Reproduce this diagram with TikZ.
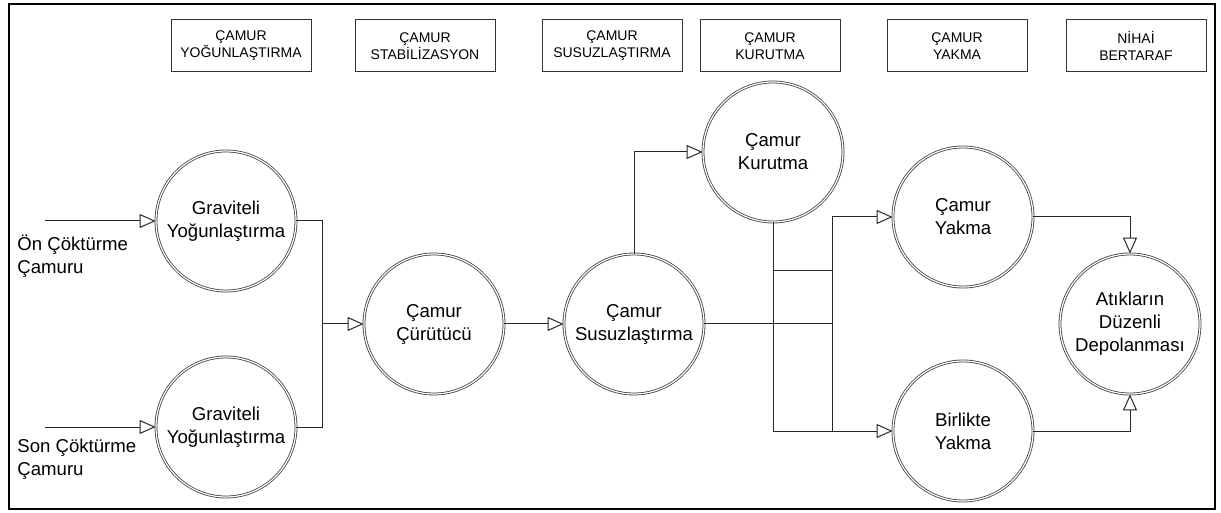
\documentclass[tikz,border=0pt]{standalone}
\usepackage{fontspec}
\setmainfont{Liberation Sans}
\usetikzlibrary{arrows.meta, positioning}

\begin{document}
\begin{tikzpicture}[x=0.5pt, y=-0.5pt]
		\tikzstyle{stage} = [rectangle, draw=black!80, line width=0.5pt, minimum width=70pt, minimum height=26pt, inner sep=0, align=center, font=\fontsize{7}{8.5}\selectfont]
		\tikzstyle{unit} = [circle, draw=black!75, double=white, double distance=0.6pt, line width=0.4pt, minimum size=70pt, inner sep=0, align=center, font=\fontsize{9.3}{11.5}\selectfont]
		\tikzstyle{source} = [anchor=north west, inner sep=0, align=left, font=\fontsize{9.3}{11.5}\selectfont]

		\tikzstyle{plain_line} = [line width=0.5pt, black!85]
		\tikzstyle{flow_line} = [-{Triangle[open, length=8pt, width=7pt]}, line width=0.5pt, black!85]

		\useasboundingbox (0,0) rectangle (1221,513);
		\draw[line width=1.3pt] (9,4) rectangle (1215,509);

		% Stages
		\foreach \x/\txt [count=\i] in {241/{ÇAMUR\\YOĞUNLAŞTIRMA}, 425/{ÇAMUR\\STABİLİZASYON}, 612/{ÇAMUR\\SUSUZLAŞTIRMA}, 770/{ÇAMUR\\KURUTMA}, 957/{ÇAMUR\\YAKMA}, 1136/{NİHAİ\\BERTARAF}} {
				\node[stage](stage_\i) at (\x,46) {\txt};
			};

		% Units
		\node[unit](grav_on) at (226,221) {Graviteli\\Yoğunlaştırma};
		\node[unit](grav_son) at (226,427) {Graviteli\\Yoğunlaştırma};
		\node[unit](digest) at (434,324) {Çamur\\Çürütücü};
		\node[unit](dewater) at (634,324) {Çamur\\Susuzlaştırma};
		\node[unit](drying) at (773,152) {Çamur\\Kurutma};
		\node[unit](incin) at (963,217) {Çamur\\Yakma};
		\node[unit](cofire) at (963,431) {Birlikte\\Yakma};
		\node[unit](landfill) at (1130,324) {Atıkların\\Düzenli\\Depolanması};

		% Sludge inputs
		\coordinate (in_on) at (45,221);
		\coordinate (in_son) at (45,427);
		\node[source](lbl_on) at (17,235) {Ön Çöktürme\\Çamuru};
		\node[source](lbl_son) at (17,439) {Son Çöktürme\\Çamuru};
		\draw[flow_line] (in_on) -- (grav_on);
		\draw[flow_line] (in_son) -- (grav_son);

		% Junctions
		\coordinate (j_thick) at (322,324);
		\coordinate (j_split) at (832,324);
		\coordinate (j_low) at (832,431);
		\coordinate (tap_a) at (773,271);
		\coordinate (tap_b) at (832,271);

		\draw[plain_line] (grav_on.east) -| (j_thick);
		\draw[plain_line] (grav_son.east) -| (j_thick);
		\draw[flow_line] (j_thick) -- (digest);
		\draw[flow_line] (digest) -- (dewater);
		\draw[flow_line] (dewater.north) |- (drying);
		\draw[plain_line] (dewater) -- (j_split);
		\draw[flow_line] (drying.south) |- (cofire);
		\draw[plain_line] (tap_a) -- (tap_b);
		\draw[flow_line] (j_low) |- (incin);

		% Disposal
		\draw[flow_line] (incin) -| (landfill);
		\draw[flow_line] (cofire) -| (landfill);

	\end{tikzpicture}
\end{document}
